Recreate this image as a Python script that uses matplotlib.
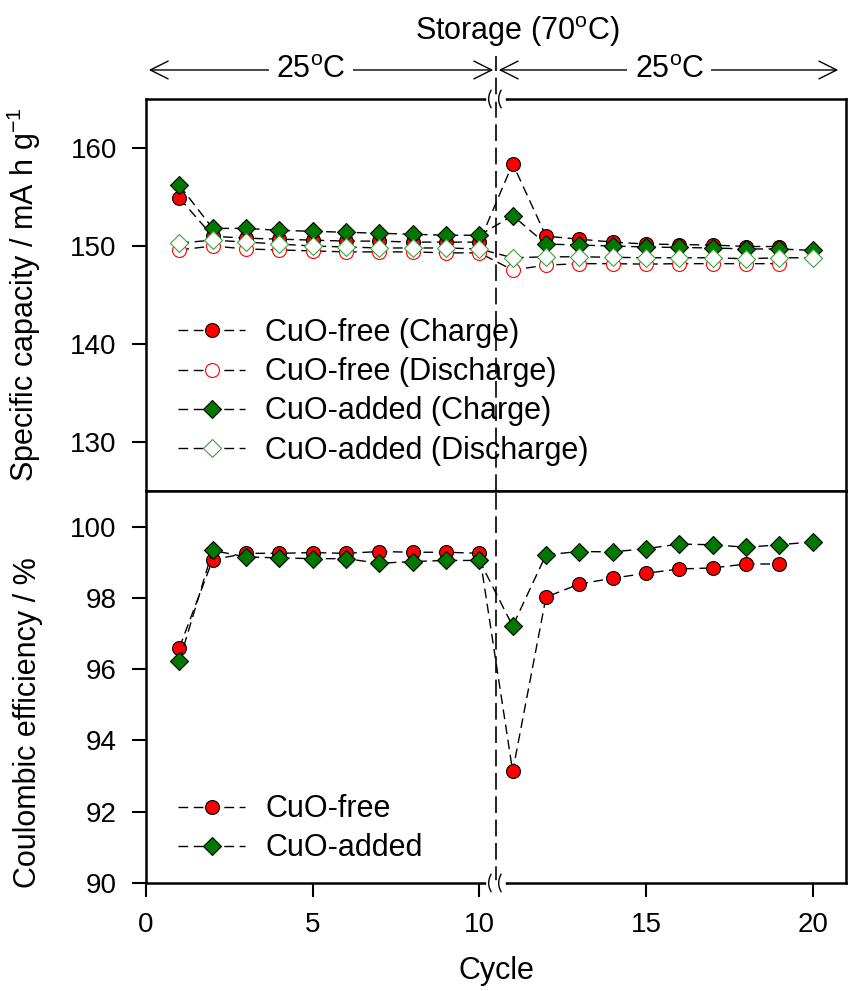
import numpy as np
import matplotlib
matplotlib.use('Agg')
import matplotlib.pyplot as plt

plt.rcParams['font.family'] = ['Liberation Sans', 'DejaVu Sans']
plt.rcParams['mathtext.fontset'] = 'custom'
plt.rcParams['mathtext.rm'] = 'Liberation Sans'
plt.rcParams['mathtext.it'] = 'Liberation Sans'

# ---- data ----
cycles = list(range(1, 21))
cyc19 = list(range(1, 20))

free_chg = [154.9, 151.0, 150.8, 150.7, 150.6, 150.5, 150.5, 150.4, 150.4, 150.4,
            158.4, 151.0, 150.7, 150.4, 150.2, 150.15, 150.1, 149.95, 149.95]
free_dis = [149.6, 150.0, 149.7, 149.6, 149.5, 149.4, 149.4, 149.4, 149.3, 149.3,
            147.55, 148.05, 148.2, 148.2, 148.15, 148.2, 148.2, 148.2, 148.2]
added_chg = [156.2, 151.8, 151.8, 151.6, 151.5, 151.4, 151.3, 151.2, 151.1, 151.1,
             153.1, 150.2, 150.1, 150.0, 149.9, 149.85, 149.8, 149.7, 149.7, 149.55]
added_dis = [150.3, 150.6, 150.4, 150.2, 150.0, 149.9, 149.8, 149.8, 149.8, 149.7,
             148.8, 148.9, 148.9, 148.85, 148.8, 148.8, 148.8, 148.7, 148.8, 148.8]

free_ce = [96.6, 99.07, 99.25, 99.25, 99.27, 99.25, 99.3, 99.28, 99.28, 99.25,
           93.13, 98.02, 98.39, 98.55, 98.69, 98.81, 98.84, 98.95, 98.95]
added_ce = [96.23, 99.33, 99.15, 99.12, 99.1, 99.1, 98.97, 99.02, 99.05, 99.05,
            97.21, 99.21, 99.3, 99.29, 99.38, 99.51, 99.49, 99.42, 99.49, 99.57]

cap_labels = ['CuO-free (Charge)', 'CuO-free (Discharge)',
              'CuO-added (Charge)', 'CuO-added (Discharge)']
ce_labels = ['CuO-free', 'CuO-added']

RED = '#ff0000'
GREEN = '#007800'
LGREEN = '#3f9f3f'
brk = 10.5

fig = plt.figure(figsize=(8.49, 9.91), dpi=100)
ax1 = fig.add_axes([0.172, 0.5045, 0.8245, 0.3956])
ax2 = fig.add_axes([0.172, 0.109, 0.8245, 0.3956])

line_kw = dict(color='black', lw=1.0, dashes=(7, 4))

ax1.plot(cyc19, free_chg, marker='o', ms=10, mfc=RED, mec='black', mew=0.8,
         label=cap_labels[0], **line_kw)
ax1.plot(cyc19, free_dis, marker='o', ms=10, mfc='white', mec=RED, mew=0.8,
         label=cap_labels[1], **line_kw)
ax1.plot(cycles, added_chg, marker='D', ms=9, mfc=GREEN, mec='black', mew=0.8,
         label=cap_labels[2], **line_kw)
ax1.plot(cycles, added_dis, marker='D', ms=9, mfc='white', mec=LGREEN, mew=0.8,
         label=cap_labels[3], **line_kw)

ax2.plot(cyc19, free_ce, marker='o', ms=10, mfc=RED, mec='black', mew=0.8,
         label=ce_labels[0], **line_kw)
ax2.plot(cycles, added_ce, marker='D', ms=9, mfc=GREEN, mec='black', mew=0.8,
         label=ce_labels[1], **line_kw)

for ax in (ax1, ax2):
    ax.set_xlim(0, 21)
    for s in ax.spines.values():
        s.set_linewidth(1.8)
    ax.tick_params(axis='both', direction='out', length=10, width=1.5, labelsize=20, pad=11)

ax1.set_ylim(125, 165)
ax1.set_yticks([130, 140, 150, 160])
ax1.tick_params(axis='x', bottom=False, labelbottom=False)
ax2.set_ylim(90, 101)
ax2.set_yticks([90, 92, 94, 96, 98, 100])
ax2.set_xticks([0, 5, 10, 15, 20])

ax1.set_ylabel('Specific capacity / mA h g$^{-1}$', fontsize=22)
ax1.yaxis.set_label_coords(-0.147, 0.5)
ax2.set_ylabel('Coulombic efficiency / %', fontsize=22)
ax2.yaxis.set_label_coords(-0.147, 0.41)
ax2.set_xlabel('Cycle', fontsize=22)
ax2.xaxis.set_label_coords(0.5, -0.185)

# vertical storage line
ax1.axvline(brk, ymin=0, ymax=1.11, color='black', lw=1.2, dashes=(10, 4), clip_on=False)
ax2.axvline(brk, ymin=0, ymax=1, color='black', lw=1.2, dashes=(10, 4), clip_on=False)

# axis break marks
def break_mark(ax, yfrac):
    tr = ax.get_xaxis_transform()
    ax.plot([brk - 0.2, brk + 0.2], [yfrac, yfrac], color='white', lw=4,
            transform=tr, clip_on=False, zorder=5)
    t = np.linspace(-1, 1, 20)
    for x0 in (brk - 0.15, brk + 0.15):
        ax.plot(x0 - 0.07 * (1 - t ** 2), yfrac + 0.022 * t, color='black', lw=1,
                transform=tr, clip_on=False, zorder=6)

break_mark(ax1, 1.0)
break_mark(ax2, 0.0)

# header arrows
arr_kw = dict(arrowstyle='<->', color='black', lw=1.0, mutation_scale=32)
ax1.annotate('', xy=(0.0, 1.074), xytext=(brk, 1.074),
             xycoords=('data', 'axes fraction'), textcoords=('data', 'axes fraction'),
             arrowprops=arr_kw, annotation_clip=False)
ax1.annotate('', xy=(brk, 1.074), xytext=(20.85, 1.074),
             xycoords=('data', 'axes fraction'), textcoords=('data', 'axes fraction'),
             arrowprops=arr_kw, annotation_clip=False)
for xc in (4.95, 15.7):
    ax1.text(xc, 1.074, '25$^\\mathrm{o}$C', fontsize=22, ha='center', va='center',
             transform=ax1.get_xaxis_transform(),
             bbox=dict(facecolor='white', edgecolor='none', pad=5), zorder=10)
fig.text(0.61, 0.968, 'Storage (70$^\\mathrm{o}$C)', fontsize=22, ha='center', va='center')

leg_kw = dict(frameon=False, fontsize=22, numpoints=1, handlelength=2.2,
              handletextpad=0.65, borderpad=0, borderaxespad=0, labelspacing=0.3)
ax1.legend(loc='lower left', bbox_to_anchor=(0.046, 0.065), **leg_kw)
ax2.legend(loc='lower left', bbox_to_anchor=(0.046, 0.05), **leg_kw)

fig.savefig('out.png', dpi=100)
